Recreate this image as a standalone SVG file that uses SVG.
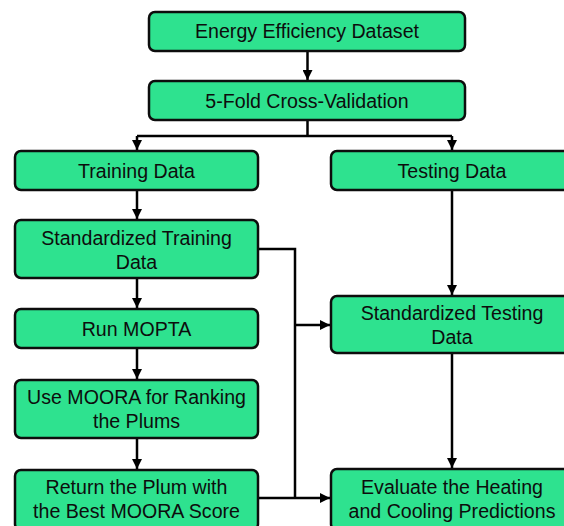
<svg xmlns="http://www.w3.org/2000/svg" width="564" height="526" viewBox="0 0 564 526">
<defs>
<marker id="ah" viewBox="0 0 10 10" refX="10" refY="5" markerWidth="4" markerHeight="4" orient="auto" markerUnits="strokeWidth">
<path d="M0,0 L10,5 L0,10 z" fill="#000"/>
</marker>
<style>
.n rect{fill:#2EE28F;stroke:#0d0d0d;stroke-width:2.5}
.n text{font-family:"Liberation Sans",Arial,sans-serif;font-size:19.6px;fill:#0d0d0d;text-anchor:middle;dominant-baseline:central}
.c path{fill:none;stroke:#000;stroke-width:2.5}
.c path.a{marker-end:url(#ah)}
</style>
</defs>
<rect width="564" height="526" fill="#fff"/>
<g class="c" id="connectors">
<path class="a" d="M307.5,51 V80"/>
<path d="M307.5,120 V136 M137,136 H452"/>
<path class="a" d="M137,136 V150"/>
<path class="a" d="M452,136 V150"/>
<path class="a" d="M137,190 V219"/>
<path class="a" d="M137,278 V308"/>
<path class="a" d="M137,348 V379"/>
<path class="a" d="M137,438 V469"/>
<path d="M258,249 H295 V498"/>
<path d="M258,498 H295"/>
<path class="a" d="M295,325 H330"/>
<path class="a" d="M295,498 H330"/>
<path class="a" d="M452,190 V295"/>
<path class="a" d="M452,353 V468"/>
</g>
<g class="n" id="n1"><rect x="149" y="12" width="316" height="39" rx="6"/><text x="307" y="31">Energy Efficiency Dataset</text></g>
<g class="n" id="n2"><rect x="149" y="81" width="316" height="39" rx="6"/><text x="307" y="100.5">5-Fold Cross-Validation</text></g>
<g class="n" id="n3"><rect x="15" y="151" width="243" height="39" rx="6"/><text x="136.5" y="170.5">Training Data</text></g>
<g class="n" id="n4"><rect x="331" y="151" width="243" height="39" rx="6"/><text x="452" y="170.5">Testing Data</text></g>
<g class="n" id="n5"><rect x="15" y="220" width="243" height="58" rx="6"/><text x="136.5" y="237.5">Standardized Training</text><text x="136.5" y="261.5">Data</text></g>
<g class="n" id="n6"><rect x="331" y="296" width="243" height="57" rx="6"/><text x="452" y="312.5">Standardized Testing</text><text x="452" y="336.5">Data</text></g>
<g class="n" id="n7"><rect x="15" y="309" width="243" height="39" rx="6"/><text x="136.5" y="328.5">Run MOPTA</text></g>
<g class="n" id="n8"><rect x="15" y="380" width="243" height="58" rx="6"/><text x="136.5" y="396.5">Use MOORA for Ranking</text><text x="136.5" y="420.5">the Plums</text></g>
<g class="n" id="n9"><rect x="15" y="470" width="243" height="60" rx="6"/><text x="136.5" y="486.5">Return the Plum with</text><text x="136.5" y="510.5">the Best MOORA Score</text></g>
<g class="n" id="n10"><rect x="331" y="469" width="243" height="61" rx="6"/><text x="452" y="486.5">Evaluate the Heating</text><text x="452" y="510.5">and Cooling Predictions</text></g>
</svg>
